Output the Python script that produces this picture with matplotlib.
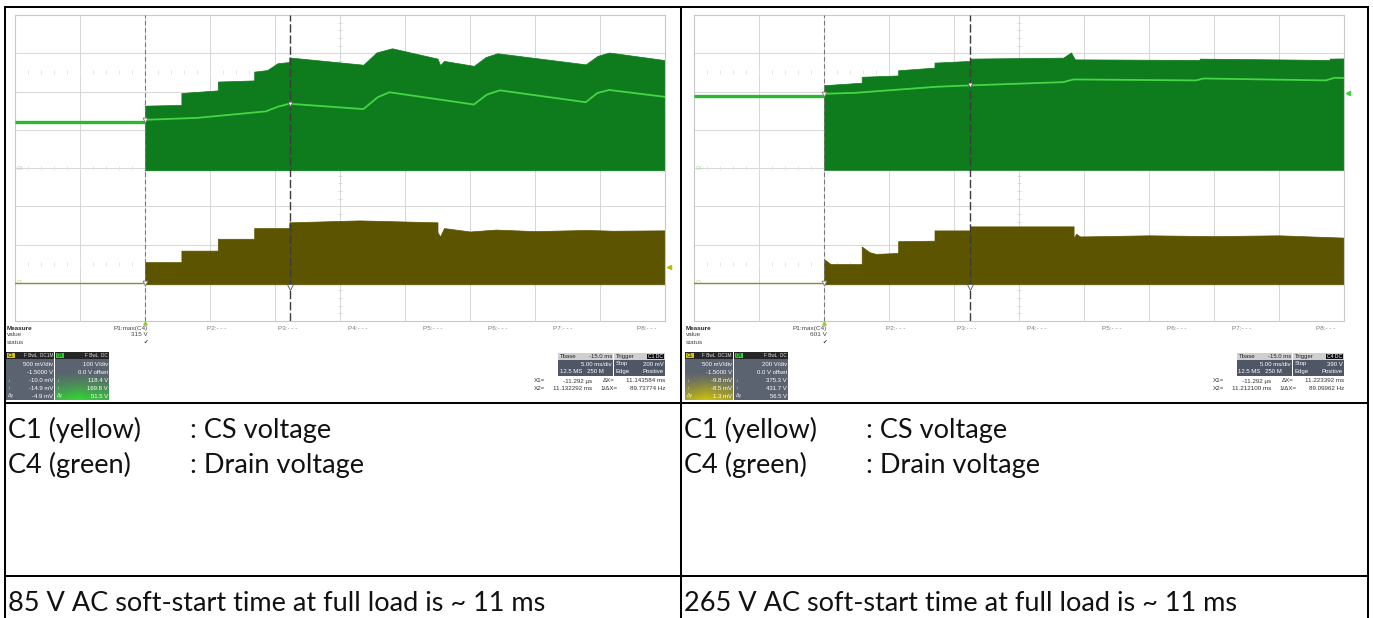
import matplotlib
matplotlib.use("Agg")
import matplotlib.pyplot as plt
import numpy as np
from matplotlib import font_manager
from matplotlib.patches import Rectangle

W, H, DPI = 1373, 618, 100

# ---- values read from the two captures (time in ms, voltages in V) ----
# 85 V AC capture, C4 drain at 100 V/div
L_PRE_DRAIN = 121
L_DRAIN_BOTTOM = -6
L_DRAIN_T = [0, 2.8, 2.8, 5.6, 5.6, 8.4, 8.4, 9.4, 10.2, 11.1, 11.1, 16.8, 17.8, 19.0,
             22.5, 22.7, 23.0, 25.3, 26.2, 27.1, 33.9, 34.8, 35.7, 40]
L_DRAIN_TOP = [163, 165, 196, 203, 226, 229, 252, 256, 274, 277, 289, 270, 302, 313,
               286, 269, 280, 267, 290, 300, 271, 293, 302, 282]
L_MID_T = [0, 4, 9.3, 10.2, 11.1, 16.8, 17.9, 18.8, 25.3, 26.3, 27.3, 33.9, 34.8, 35.7, 40]
L_MID = [126, 131, 148, 160, 168, 154, 185, 198, 166, 192, 203, 172, 196, 204, 186]
L_CS_T = [0, 2.8, 2.8, 5.6, 5.6, 8.4, 8.4, 11.1, 11.1, 16.5, 22.5, 22.5, 22.7, 23.0,
          25, 27, 30, 34, 36, 40]
L_CS_TOP = [0.27, 0.27, 0.42, 0.42, 0.575, 0.575, 0.715, 0.715, 0.79, 0.815, 0.79,
            0.66, 0.605, 0.715, 0.67, 0.695, 0.675, 0.69, 0.68, 0.685]

# 265 V AC capture, C4 drain at 200 V/div
R_PRE_DRAIN = 379
R_DRAIN_BOTTOM = -10
R_DRAIN_T = [0, 2.9, 2.9, 5.7, 5.7, 8.5, 8.5, 11.25, 11.25, 18.4, 19.0, 19.3,
             28.9, 28.9, 38.9, 38.9, 40]
R_DRAIN_TOP = [433, 446, 477, 484, 511, 525, 551, 560, 572, 577, 604, 568,
               565, 572, 565, 572, 573]
R_MID_T = [0, 2.4, 8.7, 11.25, 18.4, 19.2, 28.6, 29.2, 38.6, 39.3, 40]
R_MID = [388, 393, 425, 432, 449, 463, 458, 468, 458, 472, 470]
R_CS_T = [0, 0.5, 2.9, 2.9, 3.5, 4.0, 5.7, 5.7, 8.5, 8.5, 11.25, 11.25, 19.2, 19.2,
          19.4, 19.7, 25, 30, 35, 40]
R_CS_TOP = [0.31, 0.245, 0.245, 0.474, 0.40, 0.377, 0.39, 0.544, 0.55, 0.684, 0.684,
            0.737, 0.737, 0.588, 0.64, 0.605, 0.62, 0.61, 0.62, 0.59]

CS_BOTTOM = -0.02
C1_VDIV, C1_OFFSET = 0.5, -1.5

# scope readouts
L_P1, R_P1 = "315 V", "601 V"
L_C1_ROWS = ["500 mV/div", "-1.5000 V", "-10.0 mV", "-14.9 mV", "-4.9 mV"]
L_C4_ROWS = ["100 V/div", "0.0 V offset", "118.4 V", "169.8 V", "51.5 V"]
R_C1_ROWS = ["500 mV/div", "-1.5000 V", "-9.8 mV", "-8.5 mV", "1.3 mV"]
R_C4_ROWS = ["200 V/div", "0.0 V offset", "375.3 V", "431.7 V", "56.5 V"]
L_CURSORS = [-0.011292, 11.132292]
R_CURSORS = [-0.011292, 11.212100]
L_XREAD = ["-11.292 µs", "11.132292 ms", "11.143584 ms", "89.73774 Hz"]
R_XREAD = ["-11.292 µs", "11.212100 ms", "11.223392 ms", "89.09962 Hz"]

# table text
CAPTIONS = ["85 V AC soft-start time at full load is ~ 11 ms",
            "265 V AC soft-start time at full load is ~ 11 ms"]
LEGEND_ROWS = [("C1 (yellow)", ": CS voltage"), ("C4 (green)", ": Drain voltage")]

GRID_C = "#d6d6d6"
FILL_GREEN = "#0e7b1d"
TRACE_GREEN = "#2cb82c"
LIGHT_GREEN = "#45d645"
FILL_YEL = "#5d5400"
TRACE_YEL = "#8c8a38"


def pick(*names):
    have = {f.name for f in font_manager.fontManager.ttflist}
    out = [n for n in names if n in have]
    return out + ["DejaVu Sans"]


SCOPE_FONT = pick("Liberation Sans Narrow", "Liberation Sans")
TABLE_FONT = pick("Liberation Sans Narrow", "Lato")

fig = plt.figure(figsize=(W / DPI, H / DPI), dpi=DPI)
fig.patch.set_facecolor("white")

bg = fig.add_axes([0, 0, 1, 1], zorder=0)
bg.set_xlim(0, W)
bg.set_ylim(H, 0)
bg.axis("off")


def px_axes(x0, y0, x1, y1):
    return fig.add_axes([x0 / W, 1 - y1 / H, (x1 - x0) / W, (y1 - y0) / H], zorder=2)


def draw_scope(ax, c4_vdiv, pre, d_bot, d_t, d_top, m_t, m, cs_t, cs_top, cursors,
               trig_div, trig_col):
    c4 = lambda v: np.asarray(v, dtype=float) / c4_vdiv
    c1 = lambda v: (np.asarray(v, dtype=float) + C1_OFFSET) / C1_VDIV

    ax.set_xlim(-10, 40)
    ax.set_ylim(-4, 4)
    ax.set_xticks([])
    ax.set_yticks([])
    for s in ax.spines.values():
        s.set_color("#c8c8c8")
        s.set_linewidth(0.8)
    for x in range(-5, 40, 5):
        ax.axvline(x, color=GRID_C, lw=0.7, zorder=0)
    for y in range(-3, 4):
        ax.axhline(y, color=GRID_C, lw=0.7, zorder=0)
    # graticule ticks along the centre cross and faint dotted marks
    yt = np.arange(-4, 4.01, 0.2)
    ax.plot(np.full_like(yt, 15), yt, ls="none", marker="_", ms=3, mew=0.6,
            color=GRID_C, zorder=0)
    xt = np.arange(-10, 40.01, 1)
    for yy in (2.5, 0, -2.5):
        ax.plot(xt, np.full_like(xt, yy), ls="none", marker="|", ms=2.2, mew=0.6,
                color="#e2e2e2", zorder=0)

    # C4 drain
    ax.plot([-10, 0], c4([pre, pre]), color=TRACE_GREEN, lw=2.4,
            solid_capstyle="butt", zorder=3)
    ax.fill_between(d_t, c4(d_bot), c4(d_top), color=FILL_GREEN, lw=0.5,
                    edgecolor=FILL_GREEN, zorder=2)
    ax.plot(m_t, c4(m), color=LIGHT_GREEN, lw=1.3, zorder=3)
    # C1 current sense
    ax.plot([-10, 0], c1([0, 0]), color=TRACE_YEL, lw=1.0, zorder=3)
    ax.fill_between(cs_t, c1(CS_BOTTOM), c1(cs_top), color=FILL_YEL, lw=0.5,
                    edgecolor=FILL_YEL, zorder=2)

    # cursors
    ax.axvline(cursors[0], color="#777777", lw=0.8, ls=(0, (4, 2.5)), zorder=4)
    ax.axvline(cursors[1], color="#3c3c3c", lw=1.0, ls=(0, (6, 2)), zorder=4)
    ax.plot([cursors[0]], c4([m[0]]), marker="v", ms=3.5, mfc="white", mec="#777777",
            mew=0.6, zorder=5)
    ax.plot([cursors[0]], [c1(0)], marker="v", ms=3.5, mfc="white", mec="#777777",
            mew=0.6, zorder=5)
    ax.plot([cursors[1]], c4([np.interp(cursors[1], m_t, m)]), marker="v", ms=3.5,
            mfc="white", mec="#555555", mew=0.6, zorder=5)
    ax.plot([cursors[1]], [c1(-0.06)], marker="v", ms=4, mfc="white", mec="#555555",
            mew=0.6, zorder=5)
    ax.plot([cursors[0]], [-4.06], marker="^", ms=2.4, color="#8ccf3c", clip_on=False,
            zorder=5)
    ax.plot([40.3], [trig_div], marker="<", ms=3, color=trig_col, clip_on=False,
            zorder=5)
    ax.text(-9.9, 0.0, "C4", fontsize=3.5, color="#9ad89a", va="center",
            family=SCOPE_FONT, zorder=1)
    ax.text(-9.9, -3.0, "C1", fontsize=3.5, color="#c9c77a", va="center",
            family=SCOPE_FONT, zorder=1)


def channel_box(x0, y0, w, h, tag, tag_col, flags, rows, glow):
    bg.add_patch(Rectangle((x0, y0), w, 6.5, fc="#262626", ec="none", zorder=1))
    bg.add_patch(Rectangle((x0 + 0.5, y0 + 0.6), 8, 5.3, fc=tag_col, ec="none", zorder=2))
    bg.text(x0 + 4.5, y0 + 3.4, tag, fontsize=3.4, ha="center", va="center",
            color="#111111", family=SCOPE_FONT, zorder=3)
    bg.text(x0 + w - 1, y0 + 3.4, flags, fontsize=3.4, ha="right", va="center",
            color="#e0e0e0", family=SCOPE_FONT, zorder=3)
    bg.add_patch(Rectangle((x0, y0 + 6.5), w, h - 6.5, fc="#5b6270", ec="none", zorder=1))
    if glow is not None:
        ny, nx = 40, 60
        yy = np.linspace(0, 1, ny)[:, None]
        xx = np.linspace(0, 1, nx)[None, :]
        a = np.clip((yy - 0.3) / 0.7, 0, 1) ** 1.3 * (1 - 0.6 * np.abs(xx - 0.45))
        img = np.zeros((ny, nx, 4))
        img[..., :3] = matplotlib.colors.to_rgb(glow)
        img[..., 3] = np.clip(a, 0, 1) * 0.95
        bg.imshow(img, extent=[x0, x0 + w, y0 + h, y0 + 6.5], origin="upper",
                  aspect="auto", zorder=1.5, interpolation="bilinear")
    marks = ["", "", "↓", "↑", "Δy"]
    for i, (txt, mk) in enumerate(zip(rows, marks)):
        y = y0 + 12 + 8 * i
        bg.text(x0 + w - 1, y, txt, fontsize=4.3, ha="right", va="center",
                color="white", family=SCOPE_FONT, zorder=3)
        if mk:
            bg.text(x0 + 1.5, y, mk, fontsize=3.8, ha="left", va="center",
                    color="#e8e8e8", family=SCOPE_FONT, zorder=3)


def draw_info(dx, p1, c1_rows, c4_rows, trig, xread, left_glow, right_glow):
    f = dict(family=SCOPE_FONT, fontsize=4.6)
    bg.text(dx + 7, 328, "Measure", color="#222222", va="center", weight="bold", **f)
    bg.text(dx + 7, 335, "value", color="#444444", va="center", **f)
    bg.text(dx + 7, 342, "status", color="#444444", va="center", **f)
    bg.text(dx + 148, 328.5, "P1:max(C4)", color="#444444", va="center", ha="right", **f)
    bg.text(dx + 148, 335, p1, color="#444444", va="center", ha="right", **f)
    bg.text(dx + 146, 342, "✔", color="#333333", va="center", ha="center",
            family=["DejaVu Sans"], fontsize=4)
    for i, x in enumerate([207, 278, 348, 423, 488, 553, 637]):
        bg.text(dx + x, 328, f"P{i + 2}:- - -", color="#777777", va="center", **f)

    channel_box(dx + 6, 352, 48, 48, "C1", "#d8c800", "F BwL  DC1M", c1_rows, left_glow)
    channel_box(dx + 55, 352, 54, 48, "C4", "#2fd02f", "F BwL  DC", c4_rows, right_glow)

    # timebase / trigger boxes
    g = dict(family=SCOPE_FONT, fontsize=4.3, va="center")
    bg.add_patch(Rectangle((dx + 558, 353), 55, 7, fc="#cfcfcf", ec="none"))
    bg.add_patch(Rectangle((dx + 558, 360), 55, 15.5, fc="#4f5666", ec="none"))
    bg.add_patch(Rectangle((dx + 614, 353), 51, 7, fc="#cfcfcf", ec="none"))
    bg.add_patch(Rectangle((dx + 614, 360), 51, 15.5, fc="#4f5666", ec="none"))
    bg.add_patch(Rectangle((dx + 647, 353.8), 17, 5.5, fc="#111111", ec="none"))
    bg.text(dx + 559.5, 356.5, "Tbase", color="#222222", **g)
    bg.text(dx + 612, 356.5, "-15.0 ms", color="#222222", ha="right", **g)
    bg.text(dx + 612, 364, "5.00 ms/div", color="white", ha="right", **g)
    bg.text(dx + 559.5, 371.5, "12.5 MS   250 M", color="white", **g)
    bg.text(dx + 615.5, 356.5, "Trigger", color="#222222", **g)
    bg.text(dx + 655.5, 356.5, trig[0] + " DC", color="white", ha="center",
            family=SCOPE_FONT, fontsize=3.6, va="center")
    bg.text(dx + 615.5, 364, "Stop", color="white", **g)
    bg.text(dx + 664, 364, trig[1], color="white", ha="right", **g)
    bg.text(dx + 615.5, 371.5, "Edge", color="white", **g)
    bg.text(dx + 664, 371.5, "Positive", color="white", ha="right", **g)

    h = dict(family=SCOPE_FONT, fontsize=4.5, va="center", color="#333333")
    bg.text(dx + 534, 381, "X1=", **h)
    bg.text(dx + 592, 381, xread[0], ha="right", **h)
    bg.text(dx + 603, 381, "ΔX=", **h)
    bg.text(dx + 665, 381, xread[2], ha="right", **h)
    bg.text(dx + 534, 389, "X2=", **h)
    bg.text(dx + 592, 389, xread[1], ha="right", **h)
    bg.text(dx + 600, 389, "1/ΔX=", **h)
    bg.text(dx + 665, 389, xread[3], ha="right", **h)


# ---- scopes ----
ax_l = px_axes(15, 15, 665, 321)
draw_scope(ax_l, 100, L_PRE_DRAIN, L_DRAIN_BOTTOM, L_DRAIN_T, L_DRAIN_TOP, L_MID_T,
           L_MID, L_CS_T, L_CS_TOP, L_CURSORS, (0.2 + C1_OFFSET) / C1_VDIV, "#c8b400")
ax_r = px_axes(694, 15, 1344, 321)
draw_scope(ax_r, 200, R_PRE_DRAIN, R_DRAIN_BOTTOM, R_DRAIN_T, R_DRAIN_TOP, R_MID_T,
           R_MID, R_CS_T, R_CS_TOP, R_CURSORS, 390 / 200, "#3fcf3f")

draw_info(0, L_P1, L_C1_ROWS, L_C4_ROWS, ("C1", "200 mV"), L_XREAD, None, "#2ee02e")
draw_info(679, R_P1, R_C1_ROWS, R_C4_ROWS, ("C4", "390 V"), R_XREAD, "#d6c800", None)
bg.set_xlim(0, W)
bg.set_ylim(H, 0)

# ---- table frame ----
LW = 1.45
line = dict(color="black", lw=LW, solid_capstyle="projecting", zorder=6)
bg.plot([5, 1368], [7, 7], **line)
bg.plot([5, 1368], [402.5, 402.5], **line)
bg.plot([5, 1368], [575.5, 575.5], **line)
for x in (5, 681, 1368):
    bg.plot([x, x], [7, H + 2], **line)

# fit caption size to the measured width of the first caption (8 -> 547 px)
probe = fig.text(0, 0, CAPTIONS[0], fontsize=20, family=TABLE_FONT)
wpx = probe.get_window_extent(renderer=fig.canvas.get_renderer()).width
probe.remove()
fs = 20 * 539 / wpx

for cx in (8, 683.5):
    for (a, b), yb in zip(LEGEND_ROWS, (438, 473)):
        bg.text(cx, yb, a, fontsize=fs, family=TABLE_FONT, va="baseline", color="#111111")
        bg.text(cx + 182, yb, b, fontsize=fs, family=TABLE_FONT, va="baseline",
                color="#111111")
for cx, cap in zip((8, 683.5), CAPTIONS):
    bg.text(cx, 611, cap, fontsize=fs, family=TABLE_FONT, va="baseline", color="#111111")

fig.savefig("out.png", dpi=DPI, facecolor="white")
